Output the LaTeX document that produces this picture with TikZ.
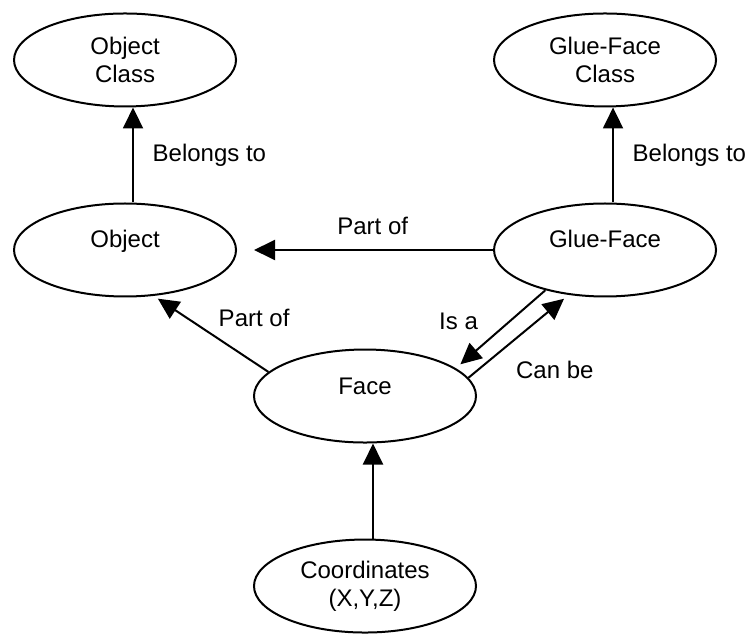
\documentclass[tikz,border=0pt]{standalone}
\usepackage{fontspec}
\setmainfont{Liberation Sans}
\usetikzlibrary{shapes.geometric,arrows.meta}

\begin{document}
\begin{tikzpicture}[
    ent/.style={ellipse, draw=black, line width=1pt, minimum width=111pt, minimum height=46.5pt,
        inner sep=1pt, align=center, font=\fontsize{12}{14}\selectfont},
    oneline/.style={text height=9pt, text depth=11pt},
    rel/.style={black, line width=1pt, -{Triangle[length=10.5pt,width=10pt]}},
    lbl/.style={font=\fontsize{12}{14}\selectfont}
  ]
    \useasboundingbox (0,0) rectangle (13.127,-11.141) ;

    % the entities
    \node[ent] (objclass) at (2.197,-1.054) {Object\\Class} ;
    \node[ent] (gfclass) at (10.632,-1.054) {Glue-Face\\Class} ;
    \node[ent, oneline] (obj) at (2.197,-4.393) {Object} ;
    \node[ent, oneline] (gface) at (10.632,-4.393) {Glue-Face} ;
    \node[ent, oneline] (face) at (6.414,-6.959) {Face} ;
    \node[ent] (coords) at (6.414,-10.298) {Coordinates\\(X,Y,Z)} ;

    % the relations
    \draw[rel] ([xshift=4pt]obj.north) -- ([xshift=4pt]objclass.south)
        node[lbl, midway, right=6pt] {Belongs to} ;
    \draw[rel] ([xshift=4pt]gface.north) -- ([xshift=4pt]gfclass.south)
        node[lbl, midway, right=6pt] {Belongs to} ;
    \draw[rel, shorten >=8.5pt] (gface.west) -- (obj.east)
        node[lbl, pos=0.47, above=4pt] {Part of} ;
    \draw[rel, shorten >=2.5pt] (face.166) -- (obj.302.6)
        node[lbl, midway, above right] {Part of} ;
    \draw[rel, shorten >=3pt] (gface.214) -- (face.17.6)
        node[lbl, pos=0.4, left=12pt] {Is a} ;
    \draw[rel, shorten >=3pt] (face.10) -- (gface.231)
        node[lbl, pos=0.1, right=15pt] {Can be} ;
    \draw[rel] ([xshift=4pt]coords.north) -- ([xshift=4pt]face.south) ;
\end{tikzpicture}
\end{document}
